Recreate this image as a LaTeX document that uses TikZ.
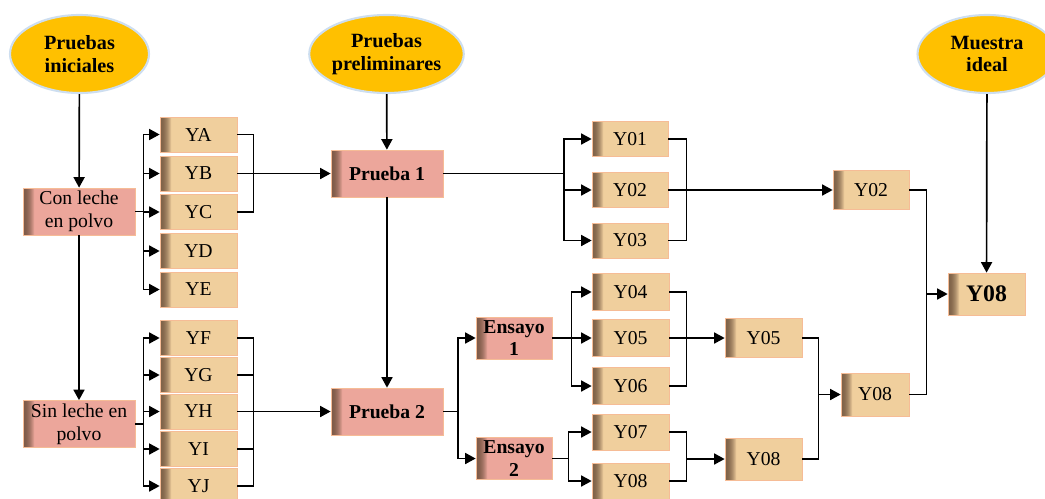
\documentclass[tikz,border=0pt]{standalone}
\usepackage{fontspec}
\setmainfont{Liberation Serif}
\usetikzlibrary{positioning,arrows.meta,shapes.geometric}
\definecolor{softgold}{RGB}{255,192,0}
\definecolor{softtan}{RGB}{240,207,157}
\definecolor{softpink}{RGB}{236,166,155}
\definecolor{softedge}{RGB}{246,188,150}
\definecolor{softglow}{RGB}{205,222,240}
\definecolor{softshade}{RGB}{100,72,52}

\begin{document}
\begin{tikzpicture}[
    x=0.2mm, y=-0.2mm,
    >={Triangle[length=2.1mm,width=2.2mm]},
    bevel/.style={
        path picture={
            \foreach \i [evaluate=\i as \c using int(20+\i*\i*0.65)] in {0,...,11}
                \fill[#1!\c!softshade]
                ([xshift=\i*0.2mm]path picture bounding box.south west) rectangle
                ([xshift=\i*0.2mm+0.22mm]path picture bounding box.north west);
        }
    },
    goal/.style={
        ellipse,
        draw=softglow,
        line width=1.2pt,
        fill=softgold,
        align=center,
        font=\fontsize{11.5}{12.7}\selectfont\bfseries,
        minimum width=27.8mm,
        minimum height=15.6mm,
        inner sep=0pt
    },
    group/.style={
        draw=softedge,
        fill=softpink,
        bevel=softpink,
        align=center,
        font=\fontsize{11.2}{13}\selectfont,
        minimum width=22.4mm,
        minimum height=9.4mm,
        inner sep=0pt
    },
    trial/.style={
        group,
        font=\fontsize{11.2}{13}\selectfont\bfseries
    },
    sample/.style={
        draw=softedge,
        fill=softtan,
        bevel=softtan,
        align=center,
        font=\fontsize{11.2}{13}\selectfont,
        minimum width=15.4mm,
        minimum height=7mm,
        inner sep=0pt
    },
    arrow/.style={->, line width=0.95pt},
    line/.style={line width=0.95pt}
]

\useasboundingbox (0,0) rectangle (1045,498);

% GOALS
\node[goal] (iniciales) at (79.5,54) {Pruebas\\iniciales};
\node[goal] (preliminares) at (386.5,54) {Pruebas\\preliminares};
\node[goal] (ideal) at (987,54) {Muestra\\ideal};

% INITIAL TESTS
\node[group] (con) at (79,211.5) {Con leche\\en polvo};
\node[group] (sin) at (79,424) {Sin leche en\\polvo};

\draw[arrow] (iniciales) -- (con);
\draw[arrow] (con) -- (sin);

\node[sample] (ya) at (198.5,134.5) {YA};
\node[sample] (yb) at (198.5,173.5) {YB};
\node[sample] (yc) at (198.5,212) {YC};
\node[sample] (yd) at (198.5,251) {YD};
\node[sample] (ye) at (198.5,289.5) {YE};

\node[sample] (yf) at (198.5,338) {YF};
\node[sample] (yg) at (198.5,375) {YG};
\node[sample] (yh) at (198.5,411.5) {YH};
\node[sample] (yi) at (198.5,449) {YI};
\node[sample] (yj) at (198.5,486) {YJ};

\foreach \n in {ya,yb,yc,yd,ye}
    \draw[arrow] (con.east) -- ++(8,0) |- (\n.west);
\foreach \n in {yf,yg,yh,yi,yj}
    \draw[arrow] (sin.east) -- ++(8,0) |- (\n.west);

% PRELIMINARY TESTS
\node[trial] (p1) at (387,173.5) {Prueba 1};
\node[trial] (p2) at (387,411.5) {Prueba 2};

\draw[arrow] (preliminares) -- (p1);
\draw[arrow] (p1) -- (p2);

\draw[line] (ya.east) -- ++(16,0) |- (yc.east);
\draw[arrow] (yb.east) -- (p1.west);
\draw[line] (yf.east) -- ++(16,0) |- (yj.east);
\draw[line] (yg.east) -- ++(16,0);
\draw[line] (yi.east) -- ++(16,0);
\draw[arrow] (yh.east) -- (p2.west);

% PRUEBA 1
\node[sample, minimum width=15.2mm] (y01) at (630,139) {Y01};
\node[sample, minimum width=15.2mm] (y02) at (630,190) {Y02};
\node[sample, minimum width=15.2mm] (y03) at (630,240.5) {Y03};

\coordinate (b1) at (564,173.5);
\draw[line] (p1.east) -- (b1);
\foreach \n in {y01,y02,y03}
    \draw[arrow] (b1) |- (\n.west);

\node[sample, minimum width=15.2mm, minimum height=7.8mm] (y02b) at (871,190) {Y02};
\draw[line] (y01.east) -- ++(18,0) |- (y03.east);
\draw[arrow] (y02.east) -- (y02b.west);

% PRUEBA 2
\node[trial, minimum width=15.2mm, minimum height=8.4mm] (e1) at (514,338) {Ensayo\\1};
\node[trial, minimum width=15.2mm, minimum height=8.4mm] (e2) at (514,458.5) {Ensayo\\2};

\coordinate (b2) at (458,411.5);
\draw[line] (p2.east) -- (b2);
\draw[arrow] (b2) |- (e1.west);
\draw[arrow] (b2) |- (e2.west);

\node[sample, minimum width=15.4mm, minimum height=7.4mm] (y04) at (630.5,292) {Y04};
\node[sample, minimum width=15.4mm, minimum height=7.4mm] (y05) at (630.5,338) {Y05};
\node[sample, minimum width=15.4mm, minimum height=7.4mm] (y06) at (630.5,386) {Y06};
\node[sample, minimum width=15.4mm, minimum height=7.2mm] (y07) at (630.5,432) {Y07};
\node[sample, minimum width=15.4mm, minimum height=7.2mm] (y08a) at (630.5,481) {Y08};

\foreach \n in {y04,y05,y06}
    \draw[arrow] (e1.east) -- ++(19,0) |- (\n.west);
\foreach \n in {y07,y08a}
    \draw[arrow] (e2.east) -- ++(16,0) |- (\n.west);

\node[sample, minimum height=7.8mm] (y05b) at (763.5,338) {Y05};
\node[sample, minimum height=8.4mm] (y08b) at (763.5,459) {Y08};

\draw[line] (y04.east) -- ++(17,0) |- (y06.east);
\draw[arrow] (y05.east) -- (y05b.west);
\coordinate (j4) at (686,459);
\draw[line] (y07.east) -- ++(17,0) |- (y08a.east);
\draw[arrow] (j4) -- (y08b.west);

% FINAL SELECTION
\node[sample, minimum width=13.6mm, minimum height=8.6mm] (y08c) at (875,394.5) {Y08};
\coordinate (j6) at (818,394.5);
\draw[line] (y05b.east) -- ++(16,0) |- (y08b.east);
\draw[arrow] (j6) -- (y08c.west);

\node[sample, minimum height=8.4mm, font=\fontsize{13.5}{15}\selectfont\bfseries] (y08f) at (986.5,294) {Y08};
\coordinate (j7) at (926,294);
\draw[line] (y02b.east) -- ++(17,0) |- (y08c.east);
\draw[arrow] (j7) -- (y08f.west);
\draw[arrow] (ideal) -- (y08f);

\end{tikzpicture}
\end{document}
